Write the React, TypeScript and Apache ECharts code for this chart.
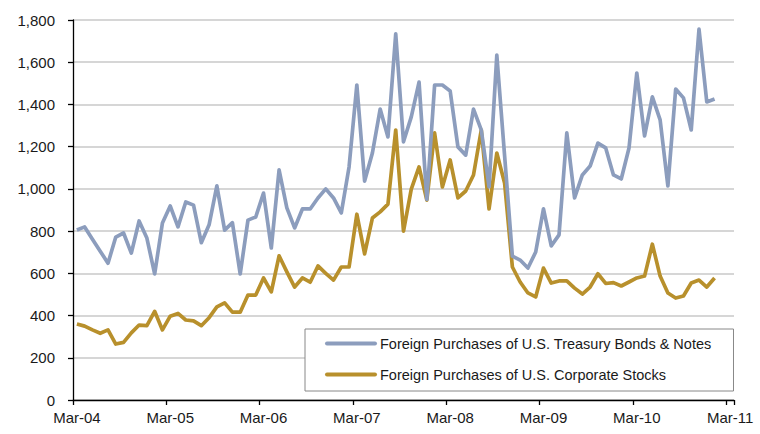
import React, { useEffect, useRef } from "react";
import * as echarts from "echarts";

const monthNames = ["Mar", "Apr", "May", "Jun", "Jul", "Aug", "Sep", "Oct", "Nov", "Dec", "Jan", "Feb"];
const startYear = 2004;
const totalMonths = 85; // Mar-04 .. Mar-11

const categories: string[] = [];
for (let i = 0; i < totalMonths; i++) {
  const m = i % 12;
  const y = startYear + Math.floor(i / 12) + (m >= 10 ? 1 : 0);
  categories.push(`${monthNames[m]}-${String(y % 100).padStart(2, "0")}`);
}

const treasuryBondsNotes: (number | null)[] = [
  805, 820, 762, 705, 648, 772, 791, 696, 848, 767, 597, 838,
  919, 820, 938, 923, 745, 830, 1014, 805, 840, 597, 852, 867,
  980, 720, 1090, 910, 815, 905, 905, 957, 1000, 957, 886, 1104,
  1492, 1037, 1170, 1378, 1246, 1734, 1223, 1341, 1506, 950, 1492, 1492,
  1464, 1199, 1160, 1378, 1280, 1010, 1634, 1158, 682, 663, 625, 701,
  905, 730, 782, 1265, 957, 1066, 1108, 1217, 1194, 1066, 1047, 1194,
  1549, 1251, 1436, 1327, 1014, 1473, 1431, 1279, 1757, 1412, 1426,
];

const corporateStocks: (number | null)[] = [
  360, 350, 332, 316, 332, 265, 273, 318, 355, 352, 420, 332,
  397, 410, 379, 375, 352, 390, 441, 460, 416, 416, 497, 497,
  578, 512, 683, 607, 535, 578, 558, 635, 600, 568, 630, 630,
  880, 692, 862, 891, 928, 1279, 800, 999, 1104, 947, 1265, 1009,
  1137, 957, 990, 1066, 1279, 905, 1170, 1028, 630, 559, 507, 488,
  625, 554, 564, 564, 530, 502, 535, 598, 552, 556, 540, 559,
  578, 587, 738, 587, 507, 483, 493, 554, 568, 535, 578,
];

const seriesNames = [
  "Foreign Purchases of U.S. Treasury Bonds & Notes",
  "Foreign Purchases of U.S. Corporate Stocks",
];

const BLUE = "#8C9DBD";
const GOLD = "#B8902C";
const FONT = "Liberation Sans";

export default function App() {
  const ref = useRef<HTMLDivElement>(null);
  useEffect(() => {
    if (!ref.current) return;
    const chart = echarts.init(ref.current, undefined, { renderer: "svg" });
    chart.setOption({
      animation: false,
      backgroundColor: "#ffffff",
      textStyle: { fontFamily: FONT },
      grid: { left: 73, right: 26, top: 20, bottom: 34, containLabel: false },
      xAxis: {
        type: "category",
        data: categories,
        boundaryGap: true,
        axisLine: { show: true, lineStyle: { color: "#000", width: 1.3 } },
        axisTick: { show: true, interval: 11, length: 5, lineStyle: { color: "#000", width: 1.3 } },
        axisLabel: {
          interval: 11,
          color: "#1a1a1a",
          fontSize: 15,
          fontFamily: FONT,
          margin: 10,
        },
        splitLine: { show: false },
      },
      yAxis: {
        type: "value",
        min: 0,
        max: 1800,
        interval: 200,
        axisLine: { show: true, lineStyle: { color: "#000", width: 1.3 } },
        axisTick: { show: true, length: 5, lineStyle: { color: "#000", width: 1.3 } },
        axisLabel: {
          color: "#1a1a1a",
          fontSize: 15,
          fontFamily: FONT,
          margin: 18,
          formatter: (v: number) => v.toLocaleString("en-US"),
        },
        splitLine: { show: true, lineStyle: { color: "#c8c8c8", width: 1.5 } },
      },
      legend: {
        show: true,
        orient: "vertical",
        left: 305,
        top: 329,
        padding: [7, 22, 9, 20],
        itemGap: 16,
        itemWidth: 48,
        itemHeight: 14,
        borderColor: "#888",
        borderWidth: 1,
        backgroundColor: "#ffffff",
        itemStyle: { opacity: 0 },
        lineStyle: { width: 4, cap: "round" },
        textStyle: { color: "#1a1a1a", fontSize: 14.5, fontFamily: FONT },
        data: seriesNames,
      },
      series: [
        {
          name: seriesNames[0],
          type: "line",
          data: treasuryBondsNotes,
          showSymbol: false,
          symbol: "none",
          lineStyle: { color: BLUE, width: 3.7, join: "round" },
          itemStyle: { color: BLUE },
          z: 3,
        },
        {
          name: seriesNames[1],
          type: "line",
          data: corporateStocks,
          showSymbol: false,
          symbol: "none",
          lineStyle: { color: GOLD, width: 3.7, join: "round" },
          itemStyle: { color: GOLD },
          z: 2,
        },
      ],
    });
    return () => chart.dispose();
  }, []);
  return (
    <div
      ref={ref}
      style={{ position: "fixed", left: 0, top: 0, width: 760, height: 434 }}
    />
  );
}
